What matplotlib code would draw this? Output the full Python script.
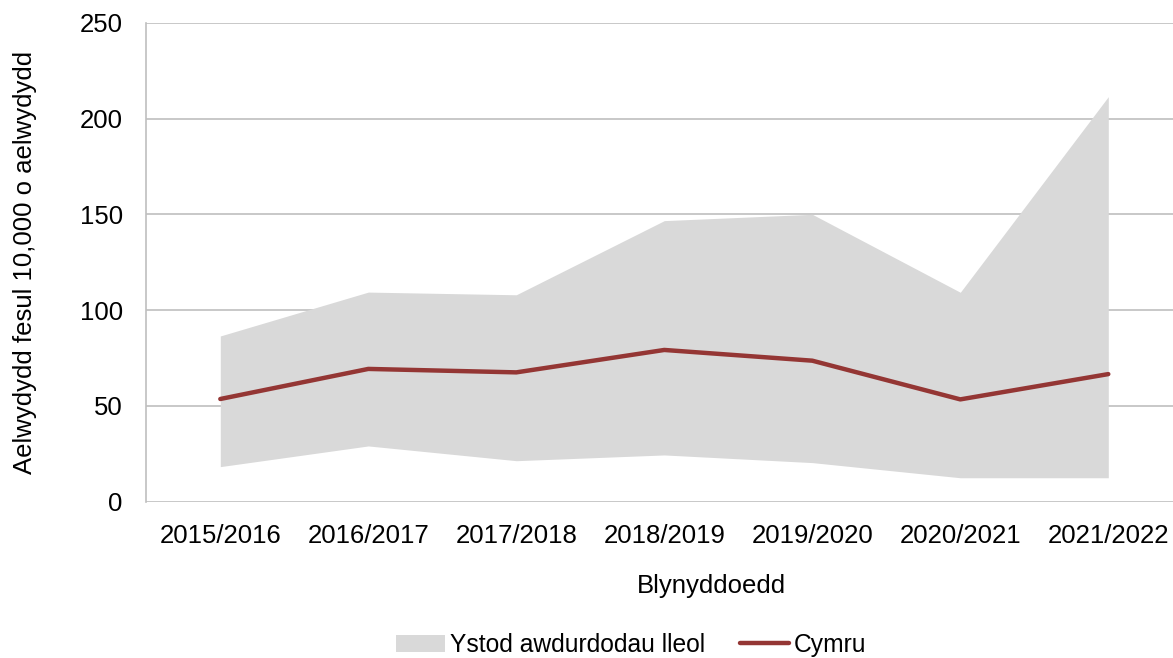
import numpy as np
import matplotlib.pyplot as plt

plt.rcParams['font.family'] = ['Liberation Sans', 'DejaVu Sans']

# data
years = ['2015/2016', '2016/2017', '2017/2018', '2018/2019',
         '2019/2020', '2020/2021', '2021/2022']
range_low = [18.3, 29.1, 21.4, 24.4, 20.4, 12.5, 12.5]
range_high = [86.5, 109.4, 108.0, 146.7, 150.0, 109.3, 211.4]
cymru = [53.6, 69.3, 67.5, 79.2, 73.6, 53.4, 66.6]

x = np.arange(len(years))
W, H = 1173, 658
fs = 18.5

fig = plt.figure(figsize=(W / 100, H / 100), dpi=100)
ax_left, ax_w = 146.3, 1036
ax = fig.add_axes([ax_left / W, 1 - 501.7 / H, ax_w / W, 479 / H])

ax.fill_between(x, range_low, range_high, color='#d9d9d9', linewidth=0,
                label='Ystod awdurdodau lleol', zorder=2)
ax.plot(x, cymru, color='#943634', linewidth=3.2, solid_capstyle='round',
        label='Cymru', zorder=3)

ax.set_xlim(-0.5, len(years) - 0.5)
ax.set_ylim(0, 250)
ax.set_yticks(range(0, 251, 50))
ax.set_xticks(x)
ax.set_xticklabels(years)
ax.tick_params(length=0, labelsize=fs, colors='black')
ax.tick_params(axis='y', pad=17)
ax.tick_params(axis='x', pad=16)

ax.grid(axis='y', color='#bfbfbf', linewidth=1.2, zorder=1)
for s in ['top', 'right', 'bottom']:
    ax.spines[s].set_visible(False)
ax.spines['left'].set_color('#bfbfbf')
ax.spines['left'].set_linewidth(1.2)

ax.set_xlabel('Blynyddoedd', fontsize=fs)
ax.xaxis.set_label_coords((711 - ax_left) / ax_w, -0.15)
ax.set_ylabel('Aelwydydd fesul 10,000 o aelwydydd', fontsize=fs)
ax.yaxis.set_label_coords((37 - ax_left) / ax_w, 0.5)

fig.legend(loc='center', bbox_to_anchor=(631 / W, 1 - 645 / H),
           ncol=2, frameon=False, fontsize=17.7, handlelength=2.0,
           handletextpad=0.2, columnspacing=1.4, borderpad=0)

fig.savefig('out.png', dpi=100)
